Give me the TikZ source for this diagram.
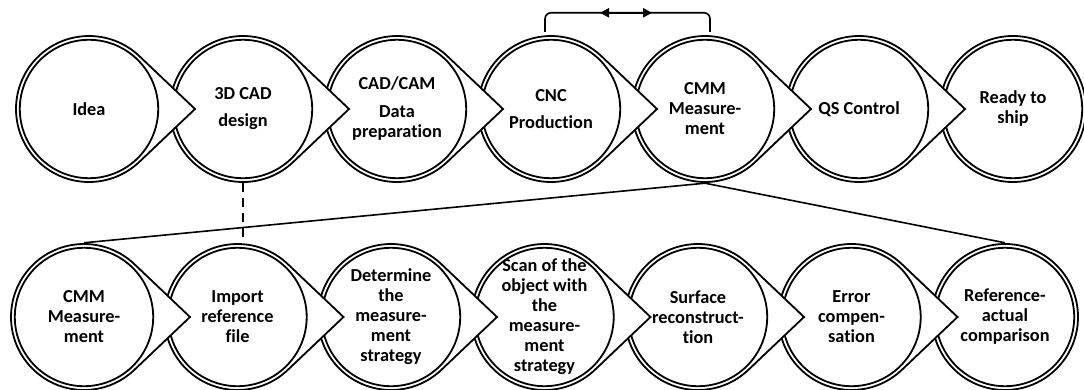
\documentclass[tikz,border=0pt]{standalone}
\usepackage{fontspec}
\setmainfont{Carlito}[Ligatures=NoCommon]
\usetikzlibrary{arrows.meta,calc}
\begin{document}
\begin{tikzpicture}[x=1pt,y=1pt,
  ring/.style={line width=1.8pt, draw=black},
  stagetext/.style={circle, minimum size=148pt, inner sep=0pt, align=center,
    font=\fontsize{18.3}{20}\selectfont\bfseries},
  conn/.style={line width=1.6pt, draw=black},
  drop/.pic={\draw[ring,fill=white] (46.47:73) arc[start angle=46.47,end angle=313.53,radius=73] -- (106,0) -- cycle;
             \draw[ring] (0,0) circle[radius=69.2];},
  ball/.pic={\draw[ring,fill=white] (0,0) circle[radius=73];
             \draw[ring] (0,0) circle[radius=69.2];}]
\fill[white] (0,0) rectangle (1084,389);
\useasboundingbox (0,0) rectangle (1084,389);
% shapes, top row (right to left so each point covers the next circle)
\pic at (1013,280) {ball};
\foreach \x in {859,705,551,397,243,89} { \pic at (\x,280) {drop}; }
% shapes, bottom row
\pic at (1005,72) {ball};
\foreach \x in {851.5,698,544.5,391,237.5,84} { \pic at (\x,72) {drop}; }
% texts, top row
\node[stagetext] (t1) at (89,280) {Idea};
\node[stagetext] (t2) at (243,280) {3D CAD\\[7pt]design};
\node[stagetext] (t3) at (397,280) {CAD/CAM\\[8pt]Data\\preparation};
\node[stagetext] (t4) at (551,280) {CNC\\[7pt]Production};
\node[stagetext] (t5) at (705,280) {CMM\\Measure-\\ment};
\node[stagetext] (t6) at (859,280) {QS Control};
\node[stagetext] (t7) at (1013,280) {Ready to\\ship};
% texts, bottom row
\node[stagetext] (b1) at (84,72) {CMM\\Measure-\\ment};
\node[stagetext] (b2) at (237.5,72) {Import\\reference\\file};
\node[stagetext] (b3) at (391,72) {Determine\\the\\measure-\\ment\\strategy};
\node[stagetext] (b4) at (544.5,72) {Scan of the\\object with\\the\\measure-\\ment\\strategy};
\node[stagetext] (b5) at (698,72) {Surface\\reconstruct-\\tion};
\node[stagetext] (b6) at (851.5,72) {Error\\compen-\\sation};
\node[stagetext] (b7) at (1005,72) {Reference-\\actual\\comparison};
% connectors
\draw[conn, line width=2pt, dash pattern=on 9pt off 6pt] (t2.south) -- (t2.south |- b2.north);
\draw[conn] (b1.north) -- (t5.south) -- (b7.north);
\draw[conn, rounded corners=6pt] ([shift={(-6pt,3pt)}]t4.north) |- ([shift={(5pt,22pt)}]t5.north) -- ([shift={(5pt,3pt)}]t5.north);
\coordinate (am) at ($(t4.north)!0.5!(t5.north)+(-2pt,22pt)$);
\draw[line width=2.2pt, {Triangle[length=9pt,width=9pt]}-{Triangle[length=9pt,width=9pt]}] ([xshift=-26pt]am) -- ([xshift=26pt]am);
\end{tikzpicture}
\end{document}
